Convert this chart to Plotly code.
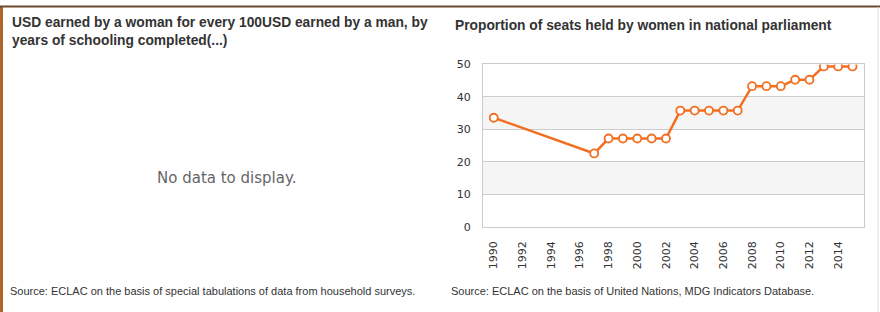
import plotly.graph_objects as go

years = [1990, 1997, 1998, 1999, 2000, 2001, 2002, 2003, 2004, 2005, 2006, 2007,
         2008, 2009, 2010, 2011, 2012, 2013, 2014, 2015]
seats = [33.6, 22.6, 27.2, 27.2, 27.2, 27.2, 27.2, 35.8, 35.8, 35.8, 35.8, 35.8,
         43.3, 43.3, 43.3, 45.3, 45.3, 49.4, 49.4, 49.4]
x_ticks = list(range(1990, 2015, 2))
y_ticks = [0, 10, 20, 30, 40, 50]

left_title = "USD earned by a woman for every 100USD earned by a man, by<br>years of schooling completed(...)"
right_title = "Proportion of seats held by women in national parliament"
left_source = "Source: ECLAC on the basis of special tabulations of data from household surveys."
right_source = "Source: ECLAC on the basis of United Nations, MDG Indicators Database."
no_data = "No data to display."

orange = "#F26F21"
W, H = 880, 320
SCALE, OFF = 0.96, 5.0

def px(x):
    return x / W

def py(y_screen):
    # convert a target screen pixel row to paper coordinate
    y_fig = (y_screen - OFF) / SCALE
    return 1 - y_fig / H

fig = go.Figure()
fig.add_trace(go.Scatter(
    x=years, y=seats, mode="lines+markers",
    line=dict(color=orange, width=2.5),
    marker=dict(size=8, color="white", line=dict(color=orange, width=1.8)),
    hoverinfo="x+y", showlegend=False,
))

shapes = []
for lo, hi in [(10, 20), (30, 40)]:
    shapes.append(dict(type="rect", xref="x domain", yref="y", x0=0, x1=1, y0=lo, y1=hi,
                       fillcolor="#f5f5f5", line=dict(width=0), layer="below"))
shapes.append(dict(type="rect", xref="paper", yref="paper", x0=0, x1=px(3), y0=0, y1=py(5),
                   fillcolor="#B0652A", line=dict(width=0), layer="above"))
shapes.append(dict(type="line", xref="paper", yref="paper", x0=0, x1=1, y0=py(5.5), y1=py(5.5),
                   line=dict(color="#6b4a2e", width=2)))
shapes.append(dict(type="line", xref="paper", yref="paper", x0=px(878), x1=px(878), y0=0, y1=py(6),
                   line=dict(color="#dddddd", width=1)))

font_arial = "Arial, Liberation Sans, sans-serif"
ann = [
    dict(text="<b>" + left_title + "</b>", x=px(10), y=py(30.5), xref="paper", yref="paper",
         xanchor="left", yanchor="middle", showarrow=False, align="left",
         font=dict(family=font_arial, size=13.8, color="#333333")),
    dict(text="<b>" + right_title + "</b>", x=px(453), y=py(24.3), xref="paper", yref="paper",
         xanchor="left", yanchor="middle", showarrow=False, align="left",
         font=dict(family=font_arial, size=13.8, color="#333333")),
    dict(text=no_data, x=px(226), y=py(177), xref="paper", yref="paper",
         xanchor="center", yanchor="middle", showarrow=False,
         font=dict(family="DejaVu Sans, Verdana", size=15, color="#666666")),
    dict(text=left_source, x=px(8), y=py(290.5), xref="paper", yref="paper",
         xanchor="left", yanchor="middle", showarrow=False,
         font=dict(family=font_arial, size=11, color="#333333")),
    dict(text=right_source, x=px(449), y=py(290.5), xref="paper", yref="paper",
         xanchor="left", yanchor="middle", showarrow=False,
         font=dict(family=font_arial, size=11, color="#333333")),
]

tick_font = dict(family="DejaVu Sans, Verdana", size=11, color="#333333")

fig.update_layout(
    width=W, height=H, margin=dict(l=0, r=0, t=0, b=0),
    paper_bgcolor="white", plot_bgcolor="white",
    shapes=shapes, annotations=ann,
    xaxis=dict(domain=[px(483), px(864)], range=[1989.25, 2015.8],
               tickmode="array", tickvals=x_ticks, ticktext=[str(v) for v in x_ticks],
               tickangle=-90, showgrid=False, zeroline=False,
               showline=True, linecolor="#cccccc", linewidth=1, mirror=True,
               ticks="outside", ticklen=9, tickcolor="rgba(0,0,0,0)",
               tickfont=tick_font),
    yaxis=dict(domain=[py(226), py(63.5)], range=[0, 50],
               tickmode="array", tickvals=y_ticks,
               showgrid=True, gridcolor="#cccccc", gridwidth=1, zeroline=False,
               showline=True, linecolor="#cccccc", linewidth=1, mirror=True,
               ticks="outside", ticklen=9, tickcolor="rgba(0,0,0,0)",
               tickfont=tick_font),
)

fig.write_html("out.html", config={"displayModeBar": False},
               post_script="document.body.style.margin='0';document.body.style.overflow='hidden';")
